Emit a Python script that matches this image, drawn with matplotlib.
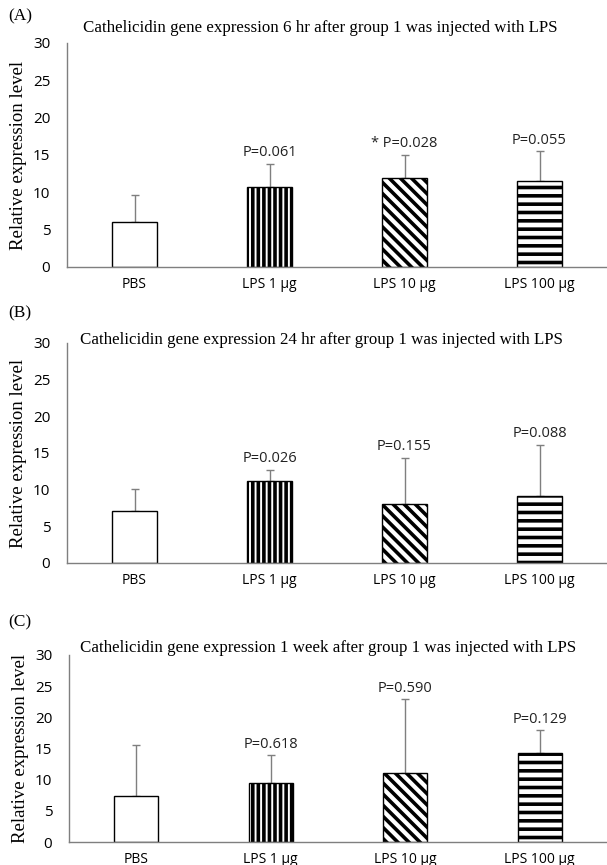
"""
Cathelicidin expression after LPS injection, three panels
"""
import matplotlib
matplotlib.use("Agg")
from matplotlib import pyplot

groups = ["PBS", "LPS 1 µg", "LPS 10 µg", "LPS 100 µg"]
hatches = ["", "|||", "\\\\\\", "--"]

mean_6hr = [6.0, 10.7, 11.9, 11.5]
err_6hr = [3.7, 3.1, 3.1, 4.0]
pval_6hr = ["", "P=0.061", "* P=0.028", "P=0.055"]

mean_24hr = [7.1, 11.2, 8.0, 9.1]
err_24hr = [3.0, 1.5, 6.3, 7.0]
pval_24hr = ["", "P=0.026", "P=0.155", "P=0.088"]

mean_1wk = [7.3, 9.5, 11.1, 14.2]
err_1wk = [8.3, 4.4, 11.9, 3.7]
pval_1wk = ["", "P=0.618", "P=0.590", "P=0.129"]

titles = [
    "Cathelicidin gene expression 6 hr after group 1 was injected with LPS",
    "Cathelicidin gene expression 24 hr after group 1 was injected with LPS",
    "Cathelicidin gene expression 1 week after group 1 was injected with LPS",
]
letters = ["(A)", "(B)", "(C)"]

pyplot.rcParams["hatch.linewidth"] = 2.6
SERIF = "Liberation Serif"
SANS = "Open Sans"
GRAY = "#7f7f7f"

W, H = 607, 865
fig = pyplot.figure(figsize=(W / 100, H / 100), dpi=100)


def px_axes(left, top, bottom, right=607):
    """axes from pixel box"""
    return fig.add_axes([left / W, 1 - bottom / H, (right - left) / W, (bottom - top) / H])


def panel(ax, means, errs, pvals, title, letter, title_x, title_y, letter_y):
    xs = range(len(groups))
    for i in xs:
        ax.bar(i, means[i], width=0.33, color="white", edgecolor="black",
               linewidth=1.0, hatch=hatches[i], zorder=2)
        ax.errorbar(i, means[i], yerr=[[0], [errs[i]]], color=GRAY, capsize=3,
                    elinewidth=1.0, capthick=1.0, zorder=1)
        if pvals[i]:
            ax.text(i, means[i] + errs[i] + 0.5, pvals[i], ha="center", va="bottom",
                    fontsize=10.5, family=SANS, color="#222222")
    ax.set_xlim(-0.5, 3.5)
    ax.set_ylim(0, 30)
    ax.set_yticks(range(0, 31, 5))
    ax.set_xticks(list(xs))
    ax.set_xticklabels(groups, family=SANS, fontsize=10)
    for lab in ax.get_yticklabels():
        lab.set_family(SANS)
        lab.set_fontsize(11)
    ax.tick_params(length=0, pad=12)
    ax.tick_params(axis="x", pad=7)
    for side in ["top", "right"]:
        ax.spines[side].set_visible(False)
    for side in ["left", "bottom"]:
        ax.spines[side].set_color(GRAY)
        ax.spines[side].set_linewidth(1.0)
    ax.set_ylabel("Relative expression level", family=SERIF, fontsize=13.5, labelpad=4)
    fig.text(title_x / W, 1 - title_y / H, title, family=SERIF, fontsize=12.2, va="center")
    fig.text(8 / W, 1 - letter_y / H, letter, family=SERIF, fontsize=12.5, va="center")


ax_a = px_axes(67, 43, 267)
panel(ax_a, mean_6hr, err_6hr, pval_6hr, titles[0], letters[0], 83, 28, 16)
ax_b = px_axes(67, 343, 563)
panel(ax_b, mean_24hr, err_24hr, pval_24hr, titles[1], letters[1], 80, 340, 313)
ax_c = px_axes(69, 655, 842)
panel(ax_c, mean_1wk, err_1wk, pval_1wk, titles[2], letters[2], 80, 648, 622)

fig.savefig("out.png", dpi=100)
pyplot.close(fig)
